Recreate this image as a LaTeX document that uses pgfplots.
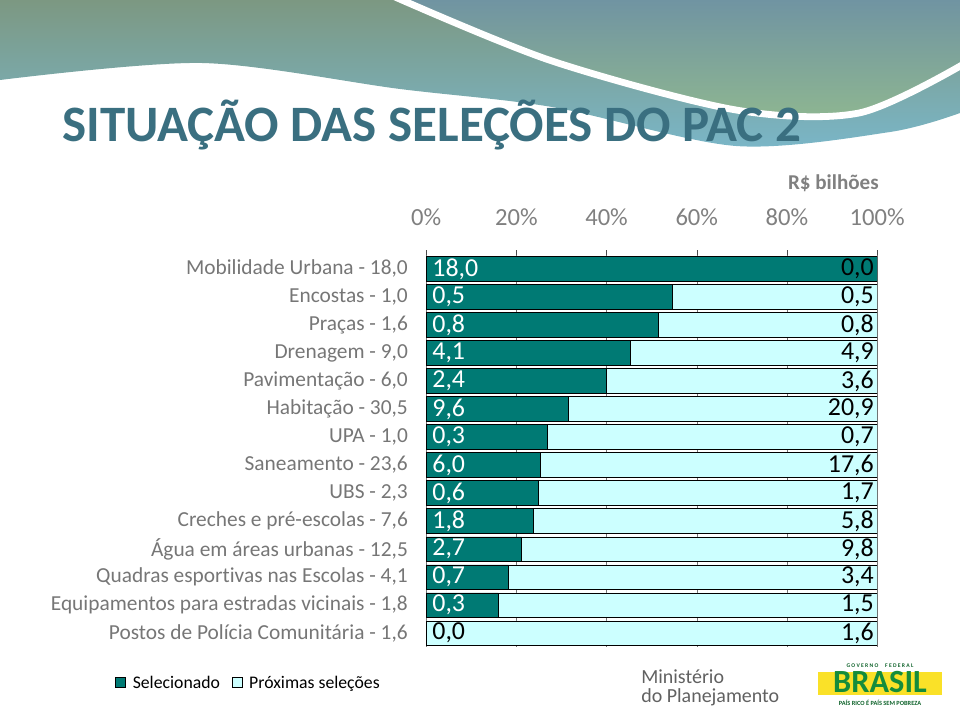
\documentclass[border=0pt]{standalone}
\usepackage{pgfplots}
\usepackage{pgfplotstable}
\pgfplotsset{compat=1.18}
\usepackage{fontspec}
\setmainfont{Carlito}[Ligatures=NoCommon]

\definecolor{titleteal}{RGB}{58,111,128}
\definecolor{barteal}{RGB}{0,122,116}
\definecolor{barcyan}{RGB}{204,255,255}
\definecolor{tickgray}{RGB}{128,128,128}
\definecolor{labgray}{RGB}{118,118,118}
\definecolor{bannerA}{RGB}{124,152,130}
\definecolor{bannerB}{RGB}{122,182,200}
\definecolor{bannerC}{RGB}{112,148,162}
\definecolor{bannerD}{RGB}{142,182,145}
\definecolor{brgreen}{RGB}{20,140,60}
\definecolor{bryellow}{RGB}{250,225,40}

% share of each programme (percent of total)
\pgfplotstableread{
y sel prox lsel lprox
0 100.0 0.0 18,0 0,0
1 54.6 45.4 0,5 0,5
2 51.6 48.4 0,8 0,8
3 45.3 54.7 4,1 4,9
4 39.9 60.1 2,4 3,6
5 31.6 68.4 9,6 20,9
6 26.8 73.2 0,3 0,7
7 25.3 74.7 6,0 17,6
8 25.0 75.0 0,6 1,7
9 23.8 76.2 1,8 5,8
10 21.2 78.8 2,7 9,8
11 18.3 81.7 0,7 3,4
12 16.0 84.0 0,3 1,5
13 0.0 100.0 0,0 1,6
}\pac

\newcommand\datafont{\fontsize{18.4}{20}\selectfont}

\begin{document}
\begin{tikzpicture}[x=0.025cm,y=0.025cm]
\path[use as bounding box] (0,0) rectangle (960,713);

% banner
\shade[top color=bannerA, bottom color=bannerB]
  (960,713) -- (0,713) -- plot[smooth] coordinates {(0,633) (202,650) (400,624) (552,606) (736,567) (890,581) (960,600)} -- cycle;
\shade[top color=bannerC, bottom color=bannerD]
  (960,713) -- (400,713) -- plot[smooth] coordinates {(400,713) (552,652) (736,603) (859,600) (960,646)} -- cycle;
\draw[white, line width=0.17cm] plot[smooth] coordinates {(395,716) (552,652) (736,603) (859,600) (962,648)};

\node[anchor=base west, inner sep=0pt, text=titleteal, font=\bfseries\fontsize{36.3}{42}\selectfont]
  at (62,571) {SITUAÇÃO DAS SELEÇÕES DO PAC 2};
\node[anchor=base east, inner sep=0pt, text=tickgray, font=\bfseries\fontsize{15}{18}\selectfont]
  at (879,523) {R\$ bilhões};

\begin{axis}[
  at={(10.65cm,1.65cm)}, anchor=south west,
  scale only axis, width=11.275cm, height=9.8cm,
  xbar stacked, bar width=0.86,
  xmin=0, xmax=100, ymin=-0.5, ymax=13.5, y dir=reverse,
  axis line style={draw=none},
  xtick={0,20,40,60,80,100},
  xticklabels={0\%,20\%,40\%,60\%,80\%,100\%},
  xtick pos=upper, xticklabel pos=upper,
  tick align=outside, major tick length=0.12cm,
  xtick style={black!70},
  xticklabel style={font=\fontsize{17.5}{20}\selectfont, text=tickgray, inner sep=0pt},
  xticklabel shift=0.6cm,
  xmajorgrids, major grid style={black!55, thin},
  ytick={0,...,13}, ytick style={draw=none},
  yticklabels={
    {Mobilidade Urbana - 18,0},
    {Encostas - 1,0},
    {Praças - 1,6},
    {Drenagem - 9,0},
    {Pavimentação - 6,0},
    {Habitação - 30,5},
    {UPA - 1,0},
    {Saneamento - 23,6},
    {UBS - 2,3},
    {Creches e pré-escolas - 7,6},
    {Água em áreas urbanas - 12,5},
    {Quadras esportivas nas Escolas - 4,1},
    {Equipamentos para estradas vicinais - 1,8},
    {Postos de Polícia Comunitária - 1,6}},
  yticklabel style={font=\fontsize{15.2}{17}\selectfont, text=labgray, inner sep=0pt, anchor=east},
  yticklabel shift=0.33cm,
  legend columns=2,
  legend style={draw=none, fill=none, at={(-0.69,-0.092)}, anchor=west,
    font=\fontsize{12.6}{15}\selectfont, inner sep=0pt,
    /tikz/every odd column/.append style={column sep=0.1cm},
    /tikz/every even column/.append style={column sep=0.22cm}},
  legend image code/.code={\draw[#1] (0cm,-0.12cm) rectangle (0.25cm,0.13cm);},
]
\addplot[fill=barteal, draw=black, line width=0.6pt] table[x=sel, y=y] {\pac};
\addlegendentry{Selecionado}
\addplot[fill=barcyan, draw=black, line width=0.6pt] table[x=prox, y=y] {\pac};
\addlegendentry{Próximas seleções}
\end{axis}

\begin{axis}[
  at={(10.65cm,1.65cm)}, anchor=south west,
  scale only axis, width=11.275cm, height=9.8cm,
  xmin=0, xmax=100, ymin=-0.5, ymax=13.5, y dir=reverse,
  hide axis, clip=false,
]
\addplot[draw=none, nodes near coords, point meta=explicit symbolic,
  skip coords between index={13}{14},
  nodes near coords style={anchor=west, text=white, font=\datafont, inner sep=0pt, xshift=0.15cm}]
  table[x expr=0, y=y, meta=lsel] {\pac};
\addplot[draw=none, nodes near coords, point meta=explicit symbolic,
  skip coords between index={0}{13},
  nodes near coords style={anchor=west, text=black, font=\datafont, inner sep=0pt, xshift=0.15cm}]
  table[x expr=0, y=y, meta=lsel] {\pac};
\addplot[draw=none, nodes near coords, point meta=explicit symbolic,
  nodes near coords style={anchor=east, text=black, font=\datafont, inner sep=0pt, xshift=-0.08cm}]
  table[x expr=100, y=y, meta=lprox] {\pac};
\end{axis}

% footer
\node[anchor=base west, inner sep=0pt, text=black!62, font=\fontsize{14.2}{17}\selectfont] at (641,30) {Ministério};
\node[anchor=base west, inner sep=0pt, text=black!62, font=\fontsize{14.2}{17}\selectfont] at (641,11) {do Planejamento};
\fill[bryellow] (818,18) rectangle (942,41);
\node[anchor=base, inner sep=0pt, text=brgreen, font=\bfseries\fontsize{23}{23}\selectfont] at (880,21) {BRASIL};
\node[anchor=center, inner sep=0pt, text=brgreen!70!black, font=\bfseries\fontsize{4}{5}\selectfont] at (880,47) {G O V E R N O \quad F E D E R A L};
\node[anchor=center, inner sep=0pt, text=brgreen!70!black, font=\bfseries\fontsize{4.5}{5}\selectfont] at (880,10) {PAÍS RICO É PAÍS SEM POBREZA};
\end{tikzpicture}
\end{document}
